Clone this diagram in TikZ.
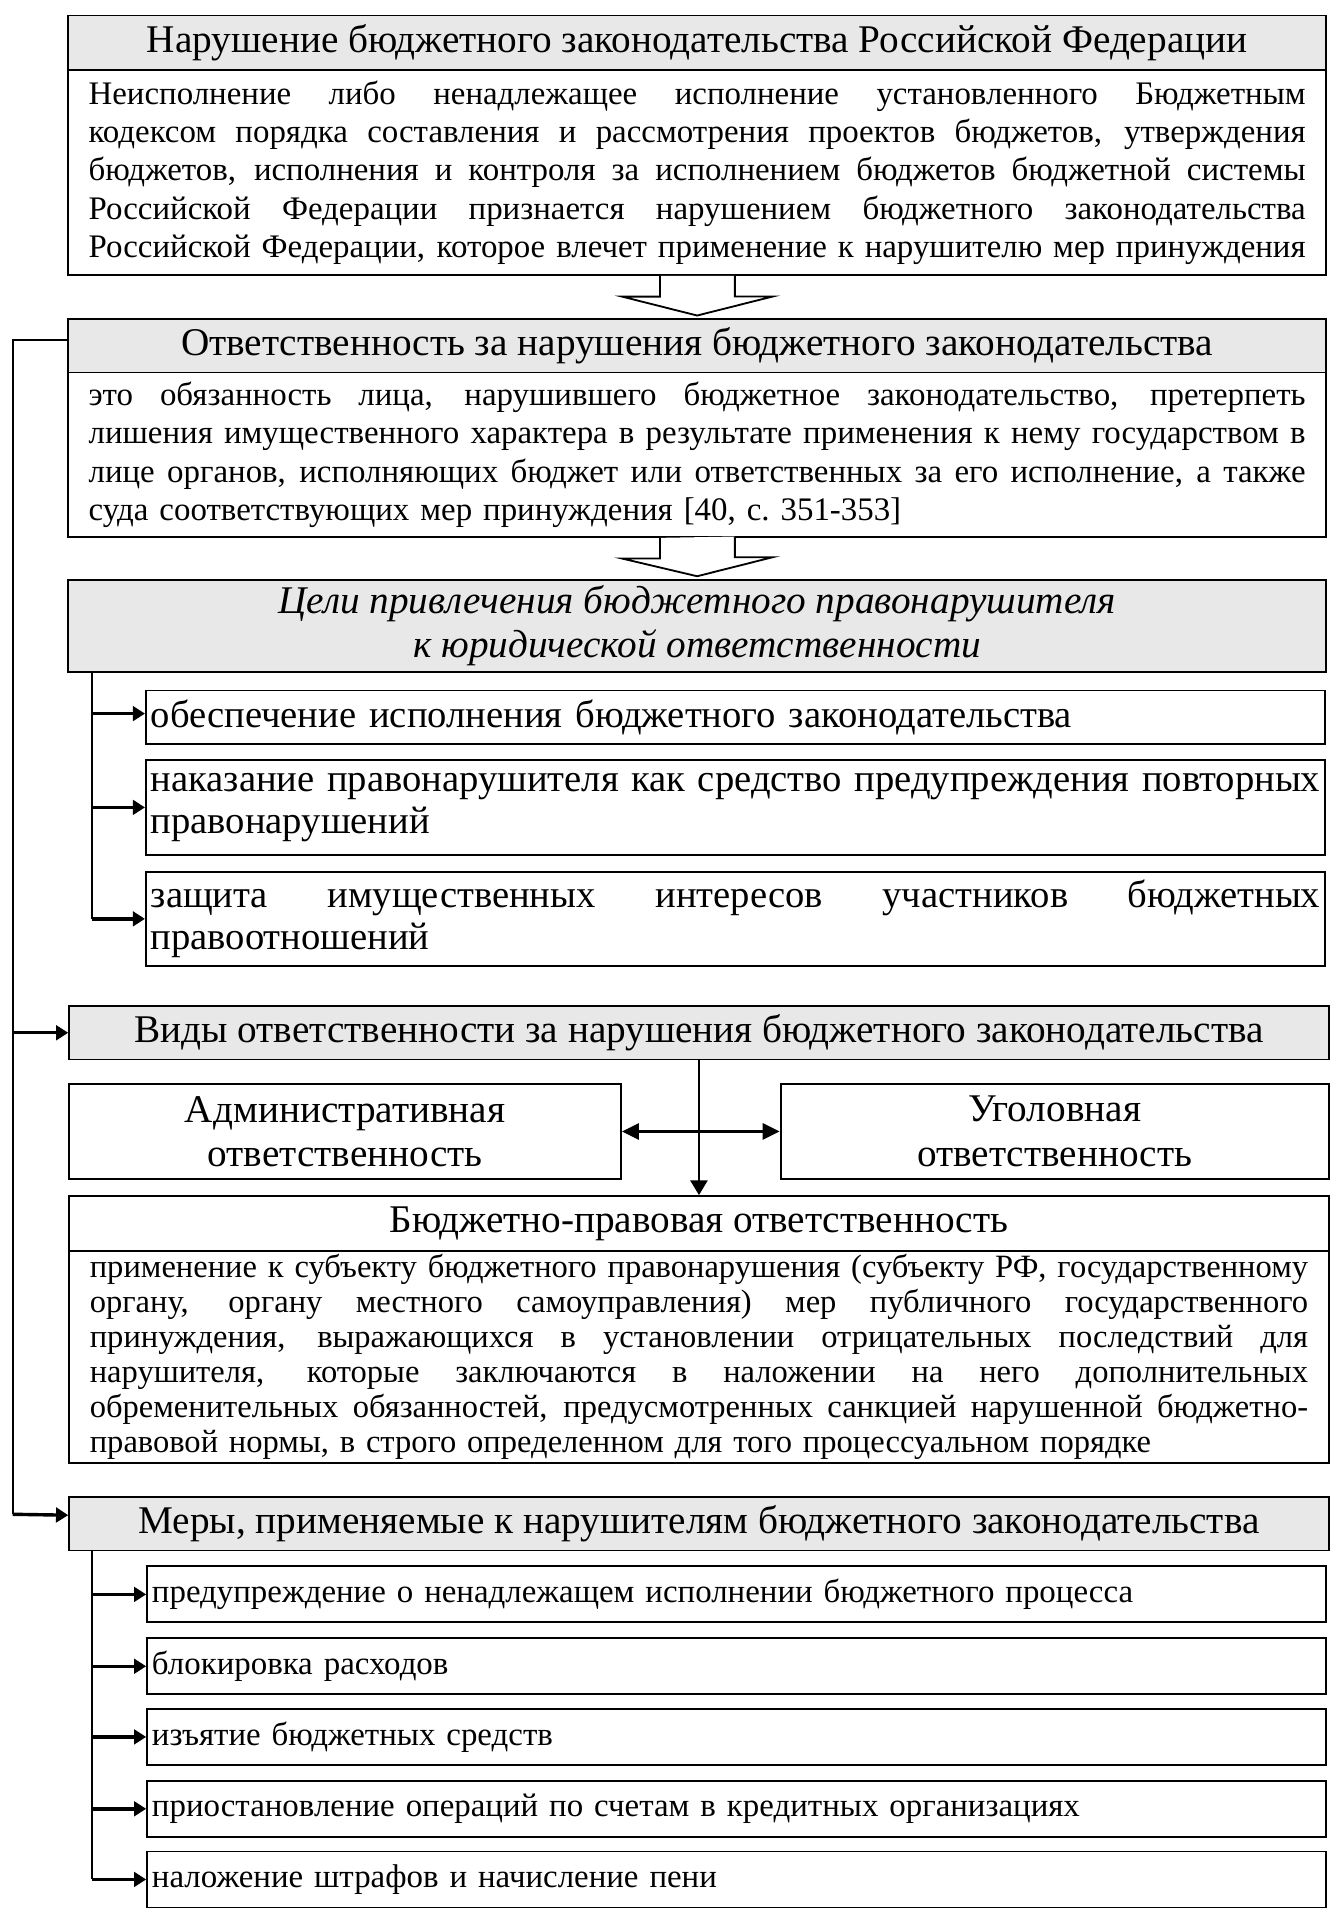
\documentclass[tikz,border=0pt]{standalone}
\usepackage{fontspec}
\setmainfont{Liberation Serif}
\usetikzlibrary{arrows.meta,calc}
\newcommand\fhead{\fontsize{16.1}{18.2}\selectfont}
\newcommand\fgoal{\fontsize{15.85}{17.5}\selectfont}
\newcommand\fbody{\fontsize{13.5}{15.75}\selectfont}
\newcommand\fbud{\fontsize{13.35}{14.3}\selectfont}
\newcommand\fmer{\fontsize{13.5}{15}\selectfont}
\newcommand\jl[2][499.5pt]{\leavevmode\hbox to #1{\spaceskip=0.25em plus 1em minus 0.05em\relax #2}}
\begin{document}
\begin{tikzpicture}[x=0.5pt,y=-0.5pt,
  base/.style={draw, line width=0.75pt, anchor=north west, inner ysep=0pt},
  hdr/.style={base, fill=gray!18, inner xsep=0pt, align=center, font=\fhead},
  plain/.style={base, fill=white, inner xsep=0pt, align=center, font=\fhead},
  bodybox/.style={base, fill=white, inner xsep=8.5pt, align=left},
  sub/.style={base, fill=white, inner xsep=2pt, align=left, text width=480pt},
  lin/.style={line width=0.8pt},
  arr/.style={line width=1.4pt, -{Triangle[length=5pt,width=6pt]}},
  hol/.style={line width=0.75pt, fill=white}
]
\useasboundingbox (0,0) rectangle (1100,1570.3);

% Box 1
\node[hdr, minimum width=516.5pt, minimum height=22.5pt] (B1h) at (55,12)
  {\raisebox{-1.5pt}{Нарушение бюджетного законодательства Российской Федерации}};
\node[bodybox, minimum width=516.5pt, minimum height=84pt, text width=499.5pt, font=\fbody] (B1b) at (55,57)
  {\jl{Неисполнение либо ненадлежащее исполнение установленного Бюджетным}\\
   \jl{кодексом порядка составления и рассмотрения проектов бюджетов, утверждения}\\
   \jl{бюджетов, исполнения и контроля за исполнением бюджетов бюджетной системы}\\
   \jl{Российской Федерации признается нарушением бюджетного законодательства}\\
   \jl{Российской Федерации, которое влечет применение к нарушителю мер принуждения}};

% Box 2
\node[hdr, minimum width=516.5pt, minimum height=22pt] (B2h) at (55,261)
  {\raisebox{-1.5pt}{Ответственность за нарушения бюджетного законодательства}};
\node[bodybox, minimum width=516.5pt, minimum height=67.5pt, text width=499.5pt, font=\fbody] (B2b) at (55,305)
  {\jl{это обязанность лица, нарушившего бюджетное законодательство, претерпеть}\\
   \jl{лишения имущественного характера в результате применения к нему государством в}\\
   \jl{лице органов, исполняющих бюджет или ответственных за его исполнение, а также}\\
   суда соответствующих мер принуждения [40, с.~351-353]};

% Box 3
\node[hdr, minimum width=516.5pt, minimum height=38pt] (B3h) at (55,475)
  {\raisebox{-2pt}{\itshape Цели привлечения бюджетного правонарушителя}\\ \raisebox{-2pt}{\itshape к юридической ответственности}};
\node[sub, minimum height=22pt, font=\fgoal] (C1) at (119,566)
  {\raisebox{-1.5pt}{обеспечение исполнения бюджетного законодательства}};
\node[sub, minimum height=39pt, font=\fgoal] (C2) at (119,623)
  {\jl[480pt]{наказание правонарушителя как средство предупреждения повторных}\\ правонарушений};
\node[sub, minimum height=38.5pt, font=\fgoal] (C3) at (119,715)
  {\jl[480pt]{защита имущественных интересов участников бюджетных}\\ правоотношений};

% Box 4
\node[hdr, minimum width=517pt, minimum height=22pt] (B4h) at (56,825)
  {\raisebox{-1.5pt}{Виды ответственности за нарушения бюджетного законодательства}};
\node[plain, minimum width=226.5pt, minimum height=39pt] (Adm) at (56,889)
  {\raisebox{-1pt}{Административная}\\\raisebox{-1pt}{ответственность}};
\node[plain, minimum width=225pt, minimum height=39pt] (Ugo) at (640,889)
  {\raisebox{-1pt}{Уголовная}\\\raisebox{-1pt}{ответственность}};
\node[plain, minimum width=517pt, minimum height=22.5pt] (Budh) at (56,981)
  {\raisebox{-1.5pt}{Бюджетно-правовая ответственность}};
\node[bodybox, minimum width=517pt, minimum height=87pt, text width=500pt, font=\fbud] (Budb) at (56,1026)
  {\jl[500pt]{применение к субъекту бюджетного правонарушения (субъекту РФ, государственному}\\
   \jl[500pt]{органу, органу местного самоуправления) мер публичного государственного}\\
   \jl[500pt]{принуждения, выражающихся в установлении отрицательных последствий для}\\
   \jl[500pt]{нарушителя, которые заключаются в наложении на него дополнительных}\\
   \jl[500pt]{обременительных обязанностей, предусмотренных санкцией нарушенной бюджетно-}\\
   правовой нормы, в строго определенном для того процессуальном порядке};

% Box 5
\node[hdr, minimum width=517pt, minimum height=22pt] (Mh) at (56,1228)
  {\raisebox{-1.5pt}{Меры, применяемые к нарушителям бюджетного законодательства}};
\node[sub, minimum height=23pt, font=\fmer] (M1) at (120,1285)
  {предупреждение о ненадлежащем исполнении бюджетного процесса};
\node[sub, minimum height=23pt, font=\fmer] (M2) at (120,1344)
  {блокировка расходов};
\node[sub, minimum height=23pt, font=\fmer] (M3) at (120,1402)
  {изъятие бюджетных средств};
\node[sub, minimum height=23pt, font=\fmer] (M4) at (120,1461)
  {приостановление операций по счетам в кредитных организациях};
\node[sub, minimum height=23pt, font=\fmer] (M5) at (120,1519)
  {наложение штрафов и начисление пени};

% hollow arrows
\draw[hol] ($(B1b.south)+(-30.5,0)$) -- ++(0,17) -- ++(-31,0) -- ($(B2h.north)+(0,-2)$)
  -- ++(62,-15.6) -- ++(-31,0) -- ++(0,-17);
\draw[hol] ($(B2b.south)+(-30.5,0)$) -- ++(0,17) -- ++(-31,0) -- ($(B3h.north)+(0,-2)$)
  -- ++(62,-15.6) -- ++(-31,0) -- ++(0,-17);

% outer left connector
\coordinate (Lt) at (10.4,279);
\coordinate (Lb) at (10.4,1243);
\draw[lin] (B2h.west |- Lt) -- (Lt) -- (Lb);
\draw[arr] (Lb) -- ($(Mh.west)+(0,-7)$);
\draw[arr] (Lt |- B4h.west) -- (B4h.west);

% goals connectors
\coordinate (Cv) at (75.7,551);
\draw[lin] (Cv) -- (Cv |- C3.west);
\draw[arr] ($(Cv |- C1.west)+(0,-3)$) -- ($(C1.west)+(0,-3)$);
\draw[arr] (Cv |- C2.west) -- (C2.west);
\draw[arr] (Cv |- C3.west) -- (C3.west);

% kinds connectors
\draw[line width=0.8pt, -{Triangle[length=6pt,width=7pt]}] (B4h.south) -- (B4h.south |- Budh.north);
\draw[line width=1.4pt, {Triangle[length=7pt,width=6.5pt]}-{Triangle[length=7pt,width=6.5pt]}] (Adm.east) -- (Ugo.west);

% measures connectors
\coordinate (Mv) at (75.8,1272);
\draw[lin] (Mv) -- (Mv |- M5.west);
\foreach \m in {M1,M2,M3,M4,M5} \draw[arr] (Mv |- \m.west) -- (\m.west);
\end{tikzpicture}
\end{document}
